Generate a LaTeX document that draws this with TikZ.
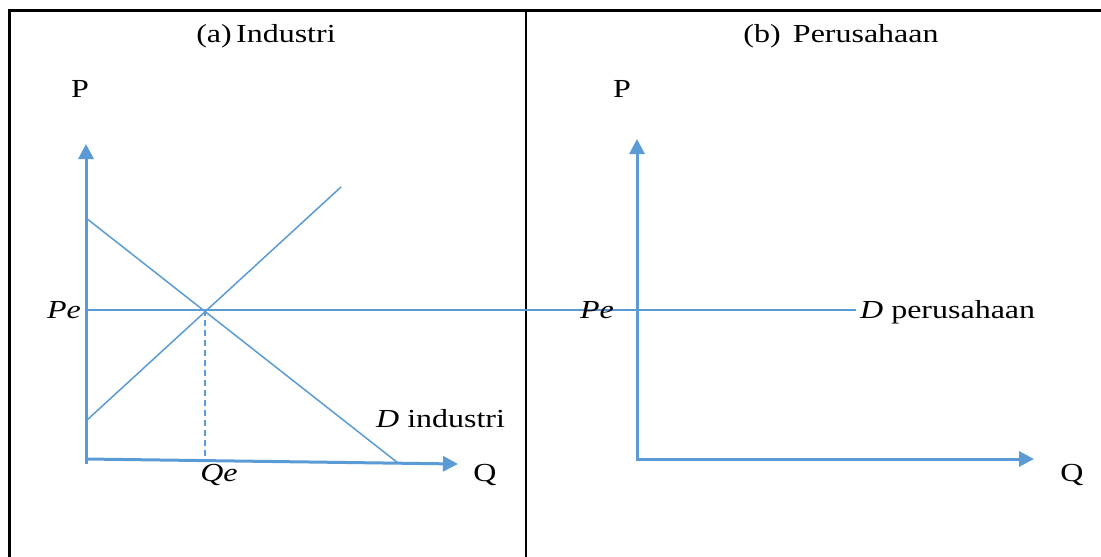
\documentclass[tikz,border=0pt]{standalone}
\usepackage{fontspec}
\setmainfont{Liberation Serif}[FakeStretch=1.23]
\usetikzlibrary{arrows.meta}
\definecolor{axblue}{RGB}{91,155,213}
\tikzset{
  axis/.style={draw=axblue, line width=3pt, -{Triangle[length=15pt,width=15pt]}},
  curve/.style={draw=axblue, line width=1.5pt},
  guide/.style={draw=axblue, line width=1.5pt, dash pattern=on 6pt off 4pt},
  frame/.style={draw=black, line width=3pt},
  lbl/.style={inner sep=0pt, font=\fontsize{26}{31}\selectfont, anchor=base},
}
\begin{document}
\begin{tikzpicture}[x=1pt,y=-1pt]
\useasboundingbox[fill=white] (0,0) rectangle (1101,557);
% frame
\coordinate (fbl) at (9,560);
\coordinate (ftl) at (9,10);
\coordinate (ftr) at (1104,10);
\coordinate (fmt) at (526,10);
\coordinate (fmb) at (526,560);
\draw[frame] (fbl) -- (ftl) -- (ftr);
\draw[frame, line width=2.2pt] (fmt) -- (fmb);
% panel (a)
\coordinate (ya0) at (86,464);
\coordinate (ya1) at (86,144);
\coordinate (xa0) at (86,459);
\coordinate (xa1) at (458,464);
\coordinate (d0) at (86,218);
\coordinate (d1) at (398,463);
\coordinate (s0) at (86,421);
\coordinate (s1) at (341,187);
\coordinate (E) at (205,310);
\coordinate (Eb) at (205,459);
\coordinate (pe0) at (86,310);
\coordinate (pe1) at (856,310);
\draw[curve] (pe0) -- (pe1);
\draw[curve] (d0) -- (d1);
\draw[curve] (s0) -- (s1);
\draw[guide] (E) -- (Eb);
\draw[axis] (ya0) -- (ya1);
\draw[axis] (xa0) -- (xa1);
% panel (b)
\coordinate (yb0) at (637,459);
\coordinate (yb1) at (637,139);
\coordinate (xb0) at (636,459);
\coordinate (xb1) at (1034,459);
\draw[axis] (yb0) -- (yb1);
\draw[axis] (xb0) -- (xb1);
% labels
\node[lbl] (ta) at (266,42) {(a)\,Industri};
\node[lbl] (tb) at (841,42) {(b)\, Perusahaan};
\node[lbl] (pa) at (80,97) {P};
\node[lbl] (pb) at (622,97) {P};
\node[lbl] (pea) at (64,318) {\itshape Pe};
\node[lbl] (peb) at (597,318) {\itshape Pe};
\node[lbl] (qe) at (219,481) {\itshape Qe};
\node[lbl] (qa) at (485,481) {Q};
\node[lbl] (qb) at (1072,481) {Q};
\node[lbl, anchor=base west] (di) at (376,427) {\itshape D\upshape\ industri};
\node[lbl, anchor=base west] (dp) at (860,318) {\itshape D\upshape\ perusahaan};
\end{tikzpicture}
\end{document}
